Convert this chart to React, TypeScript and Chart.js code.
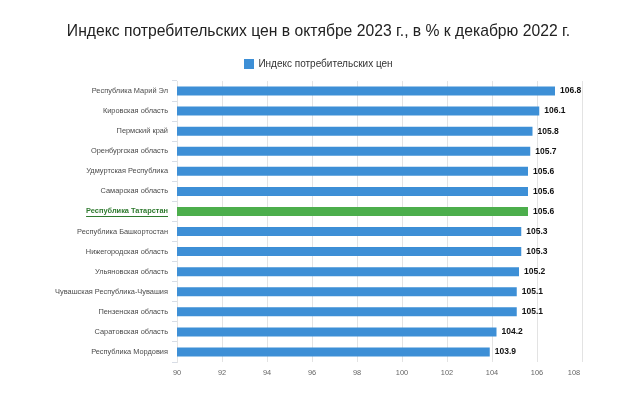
import React, { useEffect, useRef } from "react";
import { Chart, registerables } from "chart.js";

Chart.register(...registerables);

const categories = [
  "Республика Марий Эл",
  "Кировская область",
  "Пермский край",
  "Оренбургская область",
  "Удмуртская Республика",
  "Самарская область",
  "Республика Татарстан",
  "Республика Башкортостан",
  "Нижегородская область",
  "Ульяновская область",
  "Чувашская Республика-Чувашия",
  "Пензенская область",
  "Саратовская область",
  "Республика Мордовия",
];
const values = [106.8, 106.1, 105.8, 105.7, 105.6, 105.6, 105.6, 105.3, 105.3, 105.2, 105.1, 105.1, 104.2, 103.9];
const highlightIndex = 6;
const seriesName = "Индекс потребительских цен";
const titleText = "Индекс потребительских цен в октябре 2023 г., в % к декабрю 2022 г.";
const xMin = 90;
const xMax = 108;
const xStep = 2;

const BLUE = "#3d8fd6";
const GREEN = "#4cae4c";
const DARK_GREEN = "#2f7a2f";
const FONT = "'Liberation Sans', Arial, sans-serif";
const LABEL_SIZE = 7.4;

const headerPlugin = {
  id: "header",
  afterDraw(chart: any) {
    const ctx = chart.ctx;
    ctx.save();
    ctx.font = `15.7px ${FONT}`;
    ctx.fillStyle = "#222";
    ctx.textAlign = "center";
    ctx.textBaseline = "alphabetic";
    ctx.fillText(titleText, 318.5, 36);
    ctx.font = `10px ${FONT}`;
    const tw = ctx.measureText(seriesName).width;
    const total = 10 + 4 + tw;
    const x0 = 318.5 - total / 2;
    ctx.fillStyle = BLUE;
    ctx.fillRect(Math.round(x0), 59, 10, 10);
    ctx.fillStyle = "#333";
    ctx.textAlign = "left";
    ctx.textBaseline = "middle";
    ctx.fillText(seriesName, x0 + 14, 64);
    ctx.restore();
  },
};

const valueLabels = {
  id: "valueLabels",
  afterDatasetsDraw(chart: any) {
    const ctx = chart.ctx;
    const meta = chart.getDatasetMeta(0);
    ctx.save();
    ctx.font = `bold 8.5px ${FONT}`;
    ctx.fillStyle = "#111";
    ctx.textBaseline = "middle";
    ctx.textAlign = "left";
    meta.data.forEach((el: any, i: number) => {
      ctx.fillText(values[i].toFixed(1), el.x + 5, el.y);
    });
    ctx.restore();
  },
};

const underline = {
  id: "underline",
  afterDraw(chart: any) {
    const scale = chart.scales.y;
    const ctx = chart.ctx;
    ctx.save();
    ctx.font = `bold ${LABEL_SIZE}px ${FONT}`;
    const w = ctx.measureText(categories[highlightIndex]).width;
    const y = scale.getPixelForTick(highlightIndex) + 5;
    const xr = scale.right - 5 - 4;
    ctx.strokeStyle = DARK_GREEN;
    ctx.lineWidth = 1;
    ctx.beginPath();
    ctx.moveTo(xr - w, Math.round(y) + 0.5);
    ctx.lineTo(xr, Math.round(y) + 0.5);
    ctx.stroke();
    const xs = chart.scales.x;
    ctx.font = `${LABEL_SIZE}px ${FONT}`;
    ctx.fillStyle = "#666";
    ctx.textAlign = "center";
    ctx.textBaseline = "top";
    ctx.fillText(String(xMax), xs.getPixelForValue(xMax) - 8, xs.top + 7);
    ctx.restore();
  },
};

export default function App() {
  const ref = useRef<HTMLCanvasElement | null>(null);
  useEffect(() => {
    if (!ref.current) return;
    const chart = new Chart(ref.current, {
      type: "bar",
      data: {
        labels: categories,
        datasets: [
          {
            label: seriesName,
            data: values,
            backgroundColor: (c: any) => (c.dataIndex === highlightIndex ? GREEN : BLUE),
            categoryPercentage: 1,
            barPercentage: 0.45,
          },
        ],
      },
      options: {
        indexAxis: "y",
        animation: false,
        responsive: false,
        layout: { padding: { top: 81, right: 38, bottom: 0, left: 0 } },
        plugins: {
          title: { display: false },
          legend: { display: false },
          tooltip: { enabled: false },
        },
        scales: {
          x: {
            type: "linear",
            min: xMin,
            max: xMax,
            ticks: {
              stepSize: xStep,
              color: "#666",
              font: { family: FONT, size: LABEL_SIZE },
              padding: 7,
              callback: (v: any) => (v === xMax ? "" : String(v)),
            },
            grid: { color: "#e3e3e3", drawTicks: false },
            border: { display: false },
            afterFit: (s: any) => {
              s.height = 32;
            },
          },
          y: {
            type: "category",
            ticks: {
              color: (c: any) => (c.index === highlightIndex ? DARK_GREEN : "#4a4a4a"),
              font: (c: any) =>
                c.index === highlightIndex
                  ? { family: FONT, size: LABEL_SIZE, weight: "bold" }
                  : { family: FONT, size: LABEL_SIZE },
              padding: 4,
              autoSkip: false,
            },
            grid: { offset: true, drawOnChartArea: false, drawTicks: true, tickLength: 5, color: "#d8dde6" },
            border: { display: true, color: "#e3e3e3" },
            afterFit: (s: any) => {
              s.width = 177;
            },
          },
        },
      },
      plugins: [valueLabels, underline, headerPlugin],
    });
    return () => chart.destroy();
  }, []);
  return (
    <div style={{ position: "fixed", left: 0, top: 0, width: 620, height: 394, background: "#fff" }}>
      <canvas ref={ref} width={620} height={394} />
    </div>
  );
}
